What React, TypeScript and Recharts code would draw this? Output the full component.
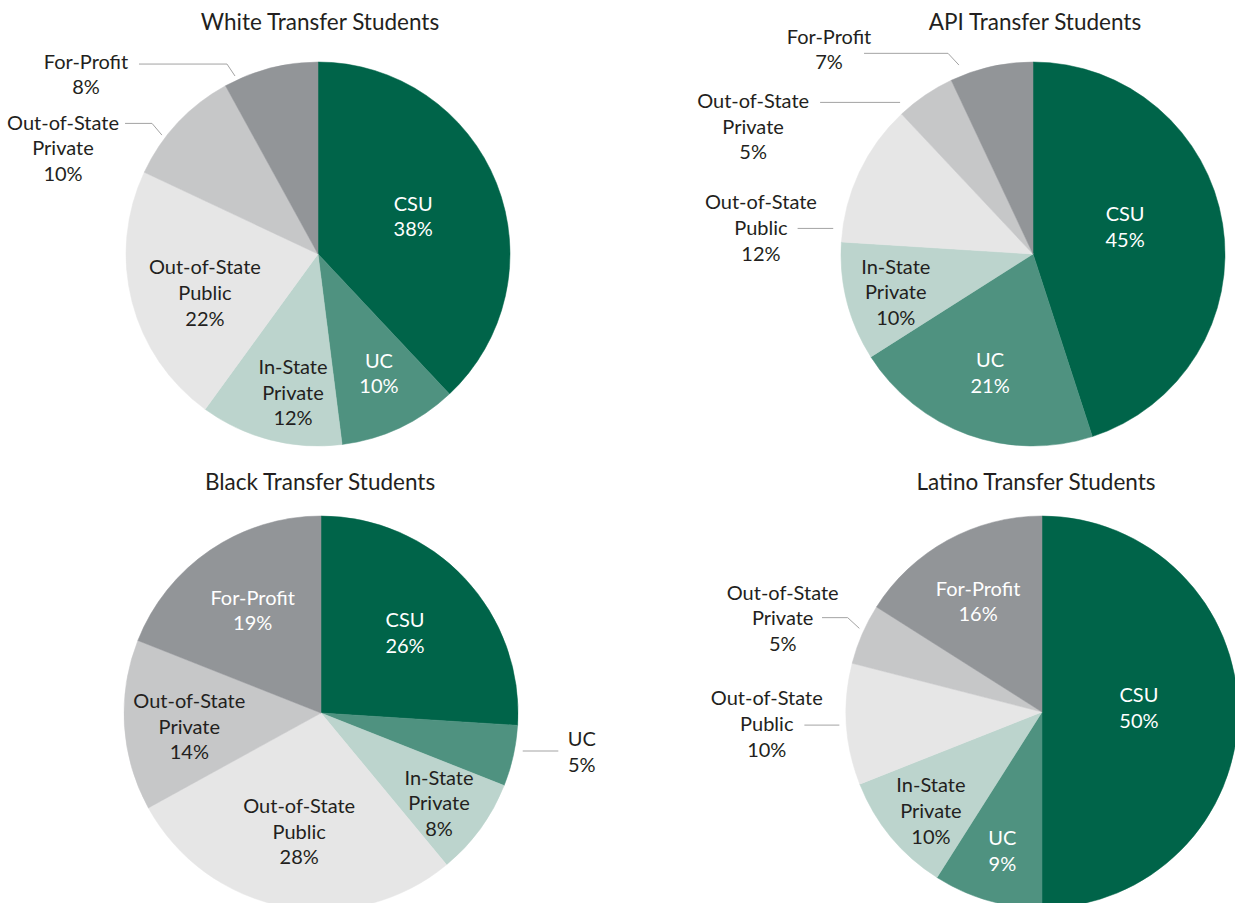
import React from "react";
import { PieChart, Pie, Cell } from "recharts";

// categories in clockwise order from 12 o'clock
const categories = [
  "CSU",
  "UC",
  "In-State Private",
  "Out-of-State Public",
  "Out-of-State Private",
  "For-Profit",
];
const labelLines = [
  ["CSU"],
  ["UC"],
  ["In-State", "Private"],
  ["Out-of-State", "Public"],
  ["Out-of-State", "Private"],
  ["For-Profit"],
];

const whiteShares = [38, 10, 12, 22, 10, 8];
const apiShares = [45, 21, 10, 12, 5, 7];
const blackShares = [26, 5, 8, 28, 14, 19];
const latinoShares = [50, 9, 10, 10, 5, 16];

const titles = [
  "White Transfer Students",
  "API Transfer Students",
  "Black Transfer Students",
  "Latino Transfer Students",
];

const sliceColors = ["#006449", "#4F9280", "#BCD4CD", "#E6E6E6", "#C6C7C8", "#929598"];
const insideText = ["#FFFFFF", "#FFFFFF", "#231F20", "#231F20", "#231F20", "#FFFFFF"];
const darkText = "#231F20";
const leaderColor = "#A3A3A3";

const FONT = "Lato, 'Noto Sans', sans-serif";
const LABEL_SIZE = 20;
const TITLE_SIZE = 22.5;
const LINE_H = 25.6;

type Inside = { kind: "in"; rf: number; da: number };
type Outside = {
  kind: "out";
  a0: number;
  r0: number;
  a1?: number;
  r1?: number;
  len: number;
  dir: number;
  tx: number;
  ty: number;
};
type Placement = Inside | Outside;

// label placements, same order as categories
const whitePlace: Placement[] = [
  { kind: "in", rf: 0.533, da: 0 },
  { kind: "in", rf: 0.699, da: -1.8 },
  { kind: "in", rf: 0.735, da: -4.2 },
  { kind: "in", rf: 0.623, da: -4.6 },
  { kind: "out", a0: 307.3, r0: 1.022, a1: 308.2, r1: 1.1, len: 27, dir: -1, tx: -62, ty: -0.6 },
  { kind: "out", a0: 335, r0: 1.023, a1: 334.4, r1: 1.097, len: 88, dir: -1, tx: -53, ty: -2.3 },
];
const apiPlace: Placement[] = [
  { kind: "in", rf: 0.5, da: -7.4 },
  { kind: "in", rf: 0.66, da: 0 },
  { kind: "in", rf: 0.742, da: -1.2 },
  { kind: "out", a0: 277.3, r0: 1.049, len: 35.6, dir: -1, tx: -36.7, ty: -26 },
  { kind: "out", a0: 318.76, r0: 1.05, len: 80, dir: -1, tx: -67, ty: -1.3 },
  { kind: "out", a0: 338.6, r0: 1.057, a1: 337.05, r1: 1.135, len: 84, dir: -1, tx: -35, ty: -16.6 },
];
const blackPlace: Placement[] = [
  { kind: "in", rf: 0.589, da: -0.4 },
  { kind: "out", a0: 100.67, r0: 1.042, len: 35.6, dir: 1, tx: 23.4, ty: -11.7 },
  { kind: "in", rf: 0.754, da: 1.4 },
  { kind: "in", rf: 0.613, da: -0.4 },
  { kind: "in", rf: 0.672, da: -2.3 },
  { kind: "in", rf: 0.625, da: 0.5 },
];
const latinoPlace: Placement[] = [
  { kind: "in", rf: 0.495, da: -2.5 },
  { kind: "in", rf: 0.738, da: -0.3 },
  { kind: "in", rf: 0.759, da: -2.1 },
  { kind: "out", a0: 266.3, r0: 1.036, len: 35, dir: -1, tx: -37.6, ty: -26.7 },
  { kind: "out", a0: 294.6, r0: 1.025, a1: 295.9, r1: 1.102, len: 25.7, dir: -1, tx: -39.3, ty: -25 },
  { kind: "in", rf: 0.652, da: -1.2 },
];

const RAD = Math.PI / 180;
// angle measured clockwise from 12 o'clock
function polar(cx: number, cy: number, r: number, deg: number) {
  return { x: cx + r * Math.sin(deg * RAD), y: cy - r * Math.cos(deg * RAD) };
}

function TextBlock({ x, y, lines, fill }: { x: number; y: number; lines: string[]; fill: string }) {
  return (
    <g>
      {lines.map((t, i) => (
        <text
          key={i}
          x={x}
          y={y + i * LINE_H + 7}
          textAnchor="middle"
          fill={fill}
          fontFamily={FONT}
          fontSize={LABEL_SIZE}
        >
          {t}
        </text>
      ))}
    </g>
  );
}

function makeLabel(places: Placement[]) {
  return (props: any) => {
    const { cx, cy, midAngle, outerRadius, index, value } = props;
    const p = places[index];
    const lines = [...labelLines[index], `${value}%`];
    if (p.kind === "in") {
      const theta = 90 - midAngle + p.da;
      const c = polar(cx, cy, outerRadius * p.rf, theta);
      const top = c.y - ((lines.length - 1) * LINE_H) / 2;
      return <TextBlock key={index} x={c.x} y={top} lines={lines} fill={insideText[index]} />;
    }
    const p0 = polar(cx, cy, outerRadius * p.r0, p.a0);
    const p1 = p.a1 !== undefined ? polar(cx, cy, outerRadius * (p.r1 ?? p.r0), p.a1) : p0;
    const p2 = { x: p1.x + p.dir * p.len, y: p1.y };
    return (
      <g key={index}>
        <polyline
          points={`${p0.x},${p0.y} ${p1.x},${p1.y} ${p2.x},${p2.y}`}
          fill="none"
          stroke={leaderColor}
          strokeWidth={1}
        />
        <TextBlock x={p2.x + p.tx} y={p2.y + p.ty} lines={lines} fill={darkText} />
      </g>
    );
  };
}

function toRows(shares: number[]) {
  return categories.map((name, i) => ({ name, value: shares[i] }));
}

type PanelProps = {
  left: number;
  top: number;
  width: number;
  height: number;
  cx: number;
  cy: number;
  r: number;
  shares: number[];
  places: Placement[];
};

function Panel({ left, top, width, height, cx, cy, r, shares, places }: PanelProps) {
  return (
    <div style={{ position: "absolute", left, top, width, height }}>
      <PieChart width={width} height={height} margin={{ top: 0, right: 0, bottom: 0, left: 0 }}>
        <Pie
          data={toRows(shares)}
          dataKey="value"
          nameKey="name"
          cx={cx}
          cy={cy}
          outerRadius={r}
          innerRadius={0}
          startAngle={90}
          endAngle={-270}
          labelLine={false}
          label={makeLabel(places)}
          isAnimationActive={false}
        >
          {shares.map((_, i) => (
            <Cell key={i} fill={sliceColors[i]} stroke={sliceColors[i]} strokeWidth={0.5} />
          ))}
        </Pie>
      </PieChart>
    </div>
  );
}

export default function App() {
  return (
    <div
      style={{
        position: "absolute",
        left: 0,
        top: 0,
        width: 1235,
        height: 903,
        overflow: "hidden",
        background: "#fff",
      }}
    >
      <Panel left={0} top={0} width={617} height={451} cx={318} cy={254} r={192} shares={whiteShares} places={whitePlace} />
      <Panel left={617} top={0} width={618} height={451} cx={416} cy={254} r={192} shares={apiShares} places={apiPlace} />
      <Panel left={0} top={451} width={617} height={452} cx={321} cy={262} r={197} shares={blackShares} places={blackPlace} />
      <Panel left={617} top={451} width={618} height={452} cx={425} cy={261} r={196} shares={latinoShares} places={latinoPlace} />
      <svg
        width={1235}
        height={903}
        style={{ position: "absolute", left: 0, top: 0, pointerEvents: "none" }}
      >
        {[
          [320, 30],
          [1035, 30],
          [320, 490],
          [1036, 490],
        ].map(([x, y], i) => (
          <text key={i} x={x} y={y} textAnchor="middle" fill={darkText} fontFamily={FONT} fontSize={TITLE_SIZE}>
            {titles[i]}
          </text>
        ))}
      </svg>
    </div>
  );
}
